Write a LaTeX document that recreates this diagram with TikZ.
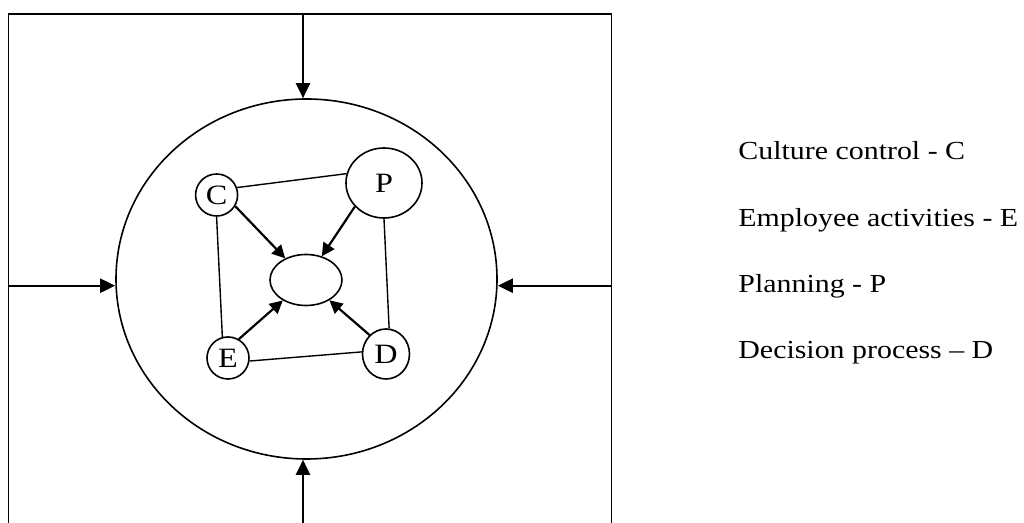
\documentclass[tikz,border=0pt]{standalone}
\usepackage{fontspec}
\setmainfont[FakeStretch=1.15]{Liberation Serif}
\usetikzlibrary{arrows.meta,shapes.geometric}

\begin{document}
\begin{tikzpicture}[x=0.5pt,y=-0.5pt,
        font=\fontsize{13}{16}\selectfont,
        every node/.style={inner sep=0pt},
        part/.style={draw,ellipse,line width=0.8pt,font=\fontsize{14}{16}\selectfont},
        link/.style={line width=0.7pt},
        feed/.style={line width=1.1pt,-{Triangle[length=6.5pt,width=6.5pt]}},
        inflow/.style={line width=1.1pt,-{Triangle[length=7.5pt,width=7pt]}},
        legend/.style={anchor=base west}]

    \useasboundingbox (0,0) rectangle (1024,523);

    % frame, open at the bottom
    \coordinate (fbl) at (8.5,523);
    \coordinate (ftl) at (8.5,14);
    \coordinate (ftr) at (611.5,14);
    \coordinate (fbr) at (611.5,523);
    \draw[line width=0.9pt] (fbl) -- (ftl) -- (ftr) -- (fbr);

    % organisation
    \node[part,minimum width=190.5pt,minimum height=180pt] (org) at (306.5,279) {};

    % parts
    \node[part,minimum width=21pt,minimum height=21pt] (C) at (216.6,195) {C};
    \node[part,minimum width=38pt,minimum height=35pt] (P) at (384,183) {P};
    \node[part,minimum width=21pt,minimum height=21pt] (E) at (228,358) {E};
    \node[part,minimum width=23.5pt,minimum height=25pt] (D) at (386,354) {D};
    \node[part,minimum width=36pt,minimum height=25.5pt] (ctr) at (306,280) {};

    \draw[link] (C.20) -- (P.166);
    \draw[link] (C.south) -- (E.105);
    \draw[link] (P.south) -- (D.83);
    \draw[link] (E.-8) -- (D.175);

    \draw[feed] (C.-31) -- (ctr);
    \draw[feed] (P.-141) -- (ctr);
    \draw[feed] (E.60) -- (ctr);
    \draw[feed] (D.131) -- (ctr);

    % influences from outside
    \coordinate (topin) at (303,14);
    \coordinate (botin) at (303,523);
    \coordinate (leftin) at (8.5,285.7);
    \coordinate (rightin) at (611.5,285.7);
    \draw[inflow] (topin) -- (topin |- org.north);
    \draw[inflow] (botin) -- (botin |- org.south);
    \draw[inflow] (leftin) -- (leftin -| org.west);
    \draw[inflow] (rightin) -- (rightin -| org.east);

    % legend
    \node[legend] (lc) at (738,160) {Culture control - C};
    \node[legend] (le) at (738,227) {Employee activities - E};
    \node[legend] (lp) at (738,293) {Planning - P};
    \node[legend] (ld) at (738,359) {Decision process – D};
\end{tikzpicture}
\end{document}
